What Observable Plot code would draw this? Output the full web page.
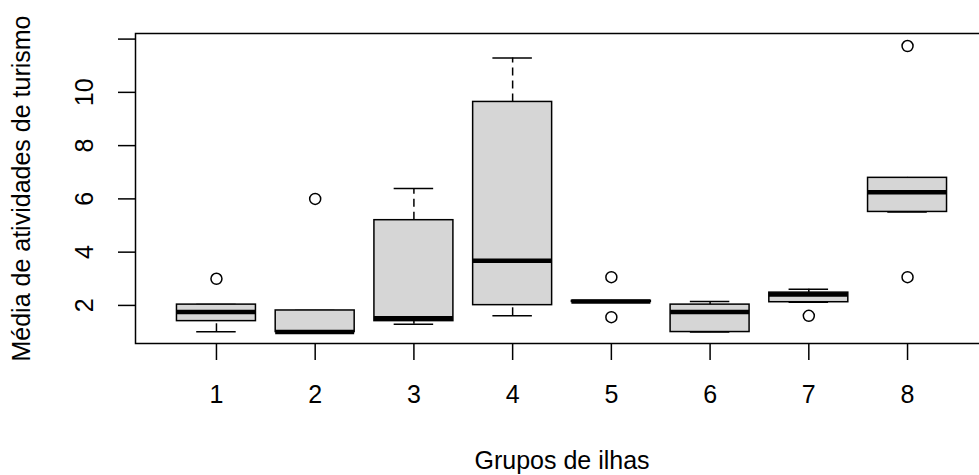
<!DOCTYPE html>
<html>
<head>
<meta charset="utf-8">
<script src="https://cdn.jsdelivr.net/npm/d3@7"></script>
<script src="https://cdn.jsdelivr.net/npm/@observablehq/plot@0.6"></script>
<style>
  html, body { margin: 0; padding: 0; background: white; overflow: hidden; }
  svg { max-width: none !important; }
</style>
</head>
<body>
<div id="chart"></div>
<script>
// Data
const groups = [1, 2, 3, 4, 5, 6, 7, 8];
const q1 = [1.41, 1.0, 1.41, 2.01, 2.13, 1.0, 2.12, 5.51];
const medians = [1.75, 1.0, 1.52, 3.68, 2.15, 1.75, 2.41, 6.25];
const q3 = [2.03, 1.81, 5.2, 9.64, 2.17, 2.03, 2.48, 6.79];
const whiskerLow = [1.01, 1.0, 1.29, 1.61, 2.13, 1.0, 2.12, 5.51];
const whiskerHigh = [2.03, 1.81, 6.39, 11.29, 2.17, 2.15, 2.61, 6.79];
const outlierGroup = [1, 2, 5, 5, 7, 8, 8];
const outlierValue = [3.0, 6.0, 3.06, 1.56, 1.61, 11.74, 3.06];
const yTicks = [2, 4, 6, 8, 10, 12];
const yTickLabels = ["2", "4", "6", "8", "10", ""];
const xTitle = "Grupos de ilhas";
const yTitle = "Média de atividades de turismo";

const boxes = groups.map((g, i) => ({
  g, q1: q1[i], med: medians[i], q3: q3[i], lo: whiskerLow[i], hi: whiskerHigh[i]
}));
const outliers = outlierGroup.map((g, i) => ({g, v: outlierValue[i]}));
const yLabels = yTicks.map((t, i) => ({t, label: yTickLabels[i]}));

const lw = 1.5;
const half = 0.4, stapleHalf = 0.2;

const chart = Plot.plot({
  width: 1000,
  height: 475,
  marginLeft: 135,
  marginRight: 12,
  marginTop: 33,
  marginBottom: 132,
  style: {fontFamily: "'Liberation Sans', Arial, sans-serif", fontSize: "25px", color: "black", background: "white", maxWidth: "none"},
  x: {type: "linear", domain: [0.18, 8.82]},
  y: {type: "linear", domain: [0.57, 12.21]},
  marks: [
    // whiskers (dashed)
    Plot.ruleX(boxes, {x: "g", y1: "q3", y2: "hi", stroke: "black", strokeWidth: lw, strokeDasharray: "8,5"}),
    Plot.ruleX(boxes, {x: "g", y1: "lo", y2: "q1", stroke: "black", strokeWidth: lw, strokeDasharray: "8,5"}),
    // staples
    Plot.ruleY(boxes, {y: "hi", x1: d => d.g - stapleHalf, x2: d => d.g + stapleHalf, stroke: "black", strokeWidth: lw}),
    Plot.ruleY(boxes, {y: "lo", x1: d => d.g - stapleHalf, x2: d => d.g + stapleHalf, stroke: "black", strokeWidth: lw}),
    // boxes
    Plot.rect(boxes, {x1: d => d.g - half, x2: d => d.g + half, y1: "q1", y2: "q3", fill: "#d6d6d6", stroke: "black", strokeWidth: lw}),
    // medians
    Plot.ruleY(boxes, {y: "med", x1: d => d.g - half, x2: d => d.g + half, stroke: "black", strokeWidth: 4.5}),
    // outliers
    Plot.dot(outliers, {x: "g", y: "v", r: 5.5, stroke: "black", strokeWidth: lw, fill: "none"}),
    // frame
    Plot.frame({stroke: "black", strokeWidth: lw}),
    // axes
    Plot.axisX({ticks: groups, tickSize: 17, tickPadding: 25, tickFormat: d => String(d), label: null, stroke: "black", strokeWidth: lw, fill: "black", fontSize: 25}),
    Plot.axisY({ticks: yTicks, tickSize: 17, tickFormat: () => "", label: null, stroke: "black", strokeWidth: lw}),
    // y tick labels (rotated)
    Plot.text(yLabels, {y: "t", text: "label", frameAnchor: "left", dx: -51, rotate: -90, textAnchor: "middle", lineAnchor: "middle", fill: "black", fontSize: 25}),
    // axis titles
    Plot.text([xTitle], {text: d => d, frameAnchor: "bottom", dy: 117, textAnchor: "middle", lineAnchor: "middle", fill: "black", fontSize: 25}),
    Plot.text([yTitle], {text: d => d, frameAnchor: "left", dx: -114, rotate: -90, textAnchor: "middle", lineAnchor: "middle", fill: "black", fontSize: 25})
  ]
});
document.getElementById("chart").appendChild(chart);
</script>
</body>
</html>
